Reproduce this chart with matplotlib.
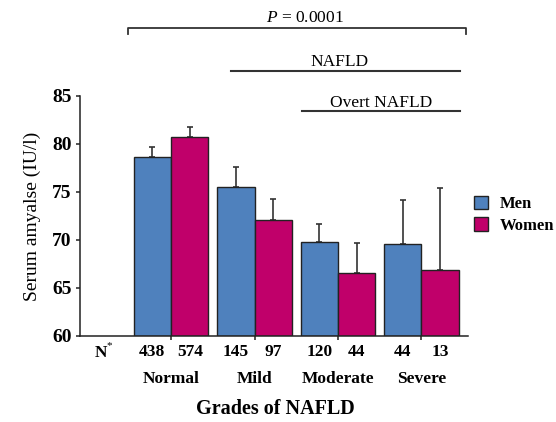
import matplotlib
matplotlib.use("Agg")
import matplotlib.pyplot as plt
import numpy as np
from matplotlib.transforms import blended_transform_factory

plt.rcParams['font.family'] = ['Liberation Serif', 'DejaVu Serif']
plt.rcParams['mathtext.fontset'] = 'custom'
plt.rcParams['mathtext.rm'] = 'Liberation Serif'
plt.rcParams['mathtext.it'] = 'Liberation Serif:italic'
plt.rcParams['mathtext.bf'] = 'Liberation Serif:bold'

groups = ["Normal", "Mild", "Moderate", "Severe"]
men_mean = [78.65, 75.5, 69.8, 69.55]
men_err = [1.05, 2.08, 1.88, 4.65]
women_mean = [80.75, 72.05, 66.55, 66.9]
women_err = [1.07, 2.25, 3.13, 8.55]
men_n = [438, 145, 120, 44]
women_n = [574, 97, 44, 13]
yticks = [60, 65, 70, 75, 80, 85]

W, H = 556, 422
fig = plt.figure(figsize=(W/100, H/100), dpi=100)
ax = fig.add_axes([80/W, 1-336/H, 388/W, 240/H])

x = np.arange(1, len(groups)+1)
bw = 0.449
c_men = "#4F81BD"
c_women = "#C0006A"
ec = "#222222"
b1 = ax.bar(x - bw/2, np.array(men_mean) - 60, bw, bottom=60, color=c_men,
            edgecolor=ec, linewidth=1.0, label="Men", zorder=2)
b2 = ax.bar(x + bw/2, np.array(women_mean) - 60, bw, bottom=60, color=c_women,
            edgecolor=ec, linewidth=1.0, label="Women", zorder=2)
ax.errorbar(x - bw/2, men_mean, yerr=[np.zeros(4), men_err], fmt='none',
            ecolor="#333333", elinewidth=1.2, capsize=2.0, capthick=1.2, zorder=1)
ax.errorbar(x + bw/2, women_mean, yerr=[np.zeros(4), women_err], fmt='none',
            ecolor="#333333", elinewidth=1.2, capsize=2.0, capthick=1.2, zorder=1)

ax.set_ylim(60, 85)
ax.set_xlim(-0.09, 4.557)
ax.set_yticks(yticks)
ax.set_yticklabels([str(t) for t in yticks], fontsize=14, fontweight='bold')
ax.set_xticks(x)
ax.set_xticklabels([])
for s in ["top", "right"]:
    ax.spines[s].set_visible(False)
for s in ["left", "bottom"]:
    ax.spines[s].set_linewidth(1.1)
    ax.spines[s].set_color("#222222")
ax.tick_params(axis='y', length=3, width=1.1, pad=3, colors="#222222", labelcolor='black')
ax.tick_params(axis='x', length=3, width=1.1, colors="#222222")

ax.set_ylabel("Serum amyalse (IU/l)", fontsize=14, labelpad=8)

tr = blended_transform_factory(ax.transData, fig.transFigure)
for i in range(len(groups)):
    ax.text(x[i] - bw/2, 1-352/H, str(men_n[i]), transform=tr, ha='center', va='center',
            fontsize=12.5, fontweight='bold')
    ax.text(x[i] + bw/2, 1-352/H, str(women_n[i]), transform=tr, ha='center', va='center',
            fontsize=12.5, fontweight='bold')
    ax.text(x[i], 1-379/H, groups[i], transform=tr, ha='center', va='center',
            fontsize=12.5, fontweight='bold')
fig.text(101/W, 1-353/H, "N", ha='center', va='center', fontsize=12.5, fontweight='bold')
fig.text(109/W, 1-346/H, "*", ha='center', va='center', fontsize=8)
fig.text(275/W, 1-409/H, "Grades of NAFLD", ha='center', va='center',
         fontsize=14.5, fontweight='bold')

# annotations
lc = "#333333"
def hline(x0, x1, y, lw=1.5):
    fig.add_artist(plt.Line2D([x0/W, x1/W], [1-y/H, 1-y/H], color=lc, lw=lw,
                              transform=fig.transFigure))
fig.add_artist(plt.Line2D([128/W, 128/W, 466/W, 466/W],
                          [1-34/H, 1-27.7/H, 1-27.7/H, 1-34/H], color=lc, lw=1.3,
                          transform=fig.transFigure))
fig.text(305/W, 1-17.5/H, "$\\it{P}$ = 0.0001", ha='center', va='center', fontsize=12.5)
hline(231, 460, 71)
fig.text(340/W, 1-62/H, "NAFLD", ha='center', va='center', fontsize=12.5)
hline(302.5, 460, 110.7)
fig.text(381/W, 1-103/H, "Overt NAFLD", ha='center', va='center', fontsize=12.5)

ax.legend(handles=[b1, b2], loc='upper left', bbox_to_anchor=(474/W, 1-196/H),
          bbox_transform=fig.transFigure, frameon=False, borderpad=0, borderaxespad=0,
          handlelength=0.85, handleheight=0.85, handletextpad=0.7, labelspacing=0.3,
          prop={'size': 12, 'weight': 'bold'})

fig.savefig("out.png", dpi=100)
